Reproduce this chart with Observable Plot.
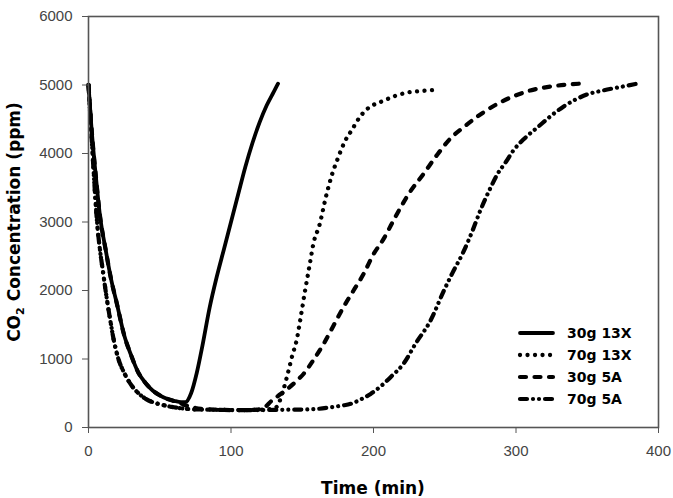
<!DOCTYPE html>
<html><head><meta charset="utf-8">
<script src="https://cdn.jsdelivr.net/npm/d3@7"></script>
<script src="https://cdn.jsdelivr.net/npm/@observablehq/plot@0.6"></script>
<style>body{margin:0;background:#fff}</style>
</head><body><div id="chart"></div>
<script>
const seriesNames = ["30g 13X", "70g 13X", "30g 5A", "70g 5A"];
const xTicks = [0, 100, 200, 300, 400];
const yTicks = [0, 1000, 2000, 3000, 4000, 5000, 6000];

const time30g13X = [0,2,5,8,12,16,20,25,30,35,40,45,50,55,60,65,68,72,76,80,85,90,95,100,105,110,115,120,125,130,133];
const conc30g13X = [5000,4400,3700,3100,2600,2150,1800,1350,1050,800,650,540,470,420,390,370,370,500,800,1200,1750,2200,2600,3000,3400,3800,4150,4450,4700,4900,5020];

const time70g13X = [0,2,4,6,8,10,12,15,18,21,25,30,35,40,45,50,55,60,65,70,80,90,100,110,120,128,132,136,140,143,146,149,152,155,158,162,167,171,175,180,185,190,195,200,207,215,224,235,246];
const conc70g13X = [5000,4300,3600,3000,2600,2300,2000,1600,1250,1000,800,620,500,420,370,340,315,295,280,270,262,258,255,255,258,270,300,500,800,1050,1270,1620,2000,2350,2700,2950,3400,3700,3930,4180,4350,4520,4640,4710,4770,4840,4890,4915,4930];

const time30g5A = [0,2,5,8,12,16,20,25,30,35,40,45,50,55,60,65,70,75,80,90,100,110,118,124,128,133,140,145,151,158,165,172,179,186,193,200,207,216,225,235,245,254,263,275,287,300,310,325,345];
const conc30g5A = [5000,4400,3700,3100,2600,2150,1800,1350,1050,800,650,540,470,420,385,350,310,285,270,260,255,255,260,300,380,460,570,660,785,990,1220,1490,1760,2000,2240,2530,2750,3100,3420,3700,3990,4220,4380,4570,4725,4850,4920,4980,5020];

const time70g5A = [0,2,4,6,8,10,12,15,18,21,25,30,35,40,45,50,55,60,65,70,80,90,100,110,120,130,140,150,160,170,178,184,191,198,205,212,221,230,240,249,255,263,270,275,281,287,293,298,306,315,324,333,342,351,361,373,385];
const conc70g5A = [5000,4300,3600,3000,2600,2300,2000,1600,1250,1000,800,620,500,420,370,340,315,295,280,270,262,258,255,255,255,256,260,262,270,295,320,345,410,490,600,735,930,1240,1560,1980,2240,2560,2900,3170,3450,3700,3880,4040,4220,4380,4540,4680,4790,4870,4920,4970,5020];

const styles = [
  {dash: null, cap: "round", w: 3.8},
  {dash: "0.01 7.5", cap: "round", w: 4.3},
  {dash: "6 8.5", cap: "round", w: 4.2},
  {dash: "7 6 0.01 6 0.01 6", cap: "round", w: 4.2}
];
const times = [time30g13X, time70g13X, time30g5A, time70g5A];
const concs = [conc30g13X, conc70g13X, conc30g5A, conc70g5A];

const lineMarks = seriesNames.map((name, k) =>
  Plot.line(times[k].map((t, i) => ({t, c: concs[k][i], name})), {
    x: "t", y: "c", stroke: "#000", strokeWidth: styles[k].w,
    strokeDasharray: styles[k].dash, strokeLinecap: styles[k].cap,
    strokeLinejoin: "round", curve: "monotone-x"
  })
);

const svg = Plot.plot({
  width: 673, height: 498,
  marginLeft: 88, marginRight: 15, marginTop: 16, marginBottom: 71,
  x: {domain: [0, 400]},
  y: {domain: [0, 6000]},
  style: {fontFamily: "'Liberation Sans', Arial, sans-serif", fontSize: "15px", color: "#444", background: "#fff"},
  marks: [
    ...lineMarks,
    Plot.frame({stroke: "#555", strokeWidth: 1.6}),
    Plot.axisX({ticks: xTicks, tickSize: 6, tickPadding: 12, label: null, tickFormat: d => String(d), stroke: "#555"}),
    Plot.axisY({ticks: yTicks, tickSize: 6, tickPadding: 10, label: null, tickFormat: d => String(d), stroke: "#555"})
  ]
});
document.getElementById("chart").appendChild(svg);

const s = d3.select(svg);
const titleFont = "'DejaVu Sans', Verdana, sans-serif";
s.append("text").attr("x", 373).attr("y", 494).attr("text-anchor", "middle")
  .attr("font-family", titleFont).attr("font-weight", "bold").attr("font-size", 17)
  .attr("fill", "#000").text("Time (min)");
const yl = s.append("text").attr("transform", "translate(20,222) rotate(-90)")
  .attr("text-anchor", "middle").attr("font-family", titleFont)
  .attr("font-weight", "bold").attr("font-size", 17).attr("fill", "#000");
yl.append("tspan").text("CO");
yl.append("tspan").attr("font-size", 11).attr("dy", 4).text("2");
yl.append("tspan").attr("dy", -4).text(" Concentration (ppm)");

const lg = s.append("g");
seriesNames.forEach((name, k) => {
  const y = 333 + k * 22;
  lg.append("line").attr("x1", 520).attr("x2", 553).attr("y1", y).attr("y2", y)
    .attr("stroke", "#000").attr("stroke-width", styles[k].w)
    .attr("stroke-dasharray", styles[k].dash).attr("stroke-linecap", styles[k].cap);
  lg.append("text").attr("x", 567).attr("y", y).attr("dy", "0.36em")
    .attr("text-anchor", "start")
    .attr("font-family", titleFont).attr("font-weight", "bold").attr("font-size", 14)
    .attr("fill", "#000").text(name);
});
</script></body></html>
